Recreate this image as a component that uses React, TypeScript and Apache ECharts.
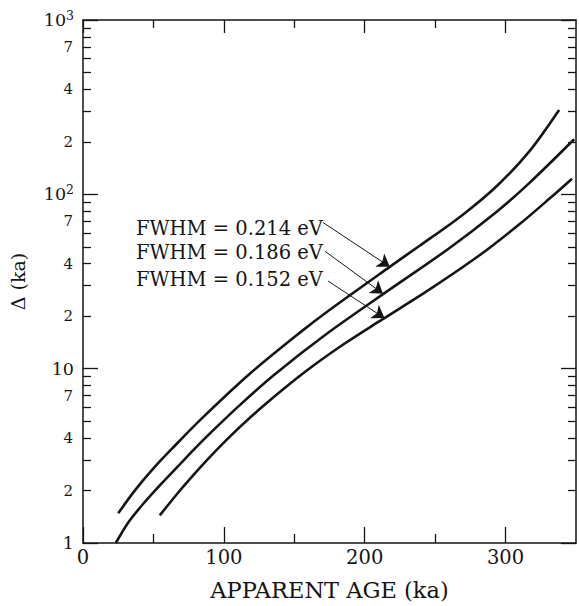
import React, { useEffect, useRef } from 'react';
import * as echarts from 'echarts';

const FONT = 'DejaVu Serif';
const INK = '#151515';

// ---- data ----
const seriesNames = ['FWHM = 0.214 eV', 'FWHM = 0.186 eV', 'FWHM = 0.152 eV'];

const age214 = [25, 37, 50, 64, 84, 119, 154, 175, 218, 239, 269, 294, 317, 338];
const delta214 = [1.48, 2.01, 2.68, 3.53, 5.15, 9.44, 16.1, 21.7, 38.5, 50.7, 75.7, 112, 177, 305];

const age186 = [23.3, 31.8, 43.1, 55.2, 67.2, 78.5, 90.5, 111.7, 135.8, 173.3, 214.3, 258.8, 293.5, 316.8, 348.7];
const delta186 = [1.0, 1.3, 1.69, 2.17, 2.74, 3.42, 4.28, 6.22, 9.23, 15.9, 27.2, 48.3, 79.3, 116, 207];

const age152 = [54.5, 67.2, 78.5, 90.5, 105, 127.3, 157.7, 185, 212.2, 246.1, 281.5, 309.8, 331, 347.2];
const delta152 = [1.44, 1.93, 2.46, 3.14, 4.13, 6.04, 9.59, 13.8, 19.1, 28.5, 44.7, 67.3, 94.2, 123];

// arrow annotations: [start age, start delta] -> [tip age, tip delta]
const arrowStarts = [[170.4, 68.9], [171.9, 47.1], [174, 31.8]];
const arrowTips = [[217.8, 38.4], [213, 26.9], [214, 19.5]];

// ---- ticks ----
const xMajorTicks = [0, 100, 200, 300];
const xMinorTicks = [50, 150, 250];
const yDecades = [1, 10, 100, 1000];
const yMinorTicks = [2, 3, 4, 5, 6, 7, 8, 9, 20, 30, 40, 50, 60, 70, 80, 90, 200, 300, 400, 500, 600, 700, 800, 900];
const yMinorLabels = [2, 4, 7, 20, 40, 70, 200, 400, 700];

// ---- layout ----
const labelX = 136;
const labelYs = [228, 252, 279];

const lg = (v: number) => Math.log10(v);

export default function App() {
  const ref = useRef<HTMLDivElement>(null);

  useEffect(() => {
    if (!ref.current) return;
    const chart = echarts.init(ref.current, undefined, { renderer: 'svg' });

    const lineStyle = { color: INK, width: 1.5 };
    const tickStyle = { color: INK, width: 1.3 };

    const xBase = {
      type: 'value' as const,
      min: 0,
      max: 350,
      splitLine: { show: false },
    };
    const yValBase = {
      type: 'value' as const,
      min: 0,
      max: 3,
      splitLine: { show: false },
      axisLine: { show: false, onZero: false },
    };

    const toPairs = (xs: number[], ys: number[]) => xs.map((x, i) => [x, ys[i]]);
    const datasets = [
      toPairs(age214, delta214),
      toPairs(age186, delta186),
      toPairs(age152, delta152),
    ];

    const option: any = {
      animation: false,
      backgroundColor: '#ffffff',
      textStyle: { fontFamily: FONT },
      grid: { left: 82, right: 3, top: 20, bottom: 59, containLabel: false },
      xAxis: [
        {
          ...xBase,
          position: 'bottom',
          axisLine: { show: true, onZero: false, lineStyle },
          axisTick: { show: true, inside: true, length: 16, customValues: xMajorTicks, lineStyle: tickStyle },
          axisLabel: { show: true, customValues: xMajorTicks, color: INK, fontFamily: FONT, fontSize: 19.5, margin: 4 },
          name: 'APPARENT AGE (ka)',
          nameLocation: 'middle',
          nameGap: 35,
          nameTextStyle: { color: INK, fontFamily: FONT, fontSize: 22.5 },
        },
        {
          ...xBase,
          position: 'bottom',
          axisLine: { show: false, onZero: false },
          axisTick: { show: true, inside: true, length: 9, customValues: xMinorTicks, lineStyle: tickStyle },
          axisLabel: { show: false },
        },
        {
          ...xBase,
          position: 'top',
          axisLine: { show: true, onZero: false, lineStyle },
          axisTick: { show: true, inside: true, length: 13, customValues: xMajorTicks, lineStyle: tickStyle },
          axisLabel: { show: false },
        },
        {
          ...xBase,
          position: 'top',
          axisLine: { show: false, onZero: false },
          axisTick: { show: true, inside: true, length: 8, customValues: xMinorTicks, lineStyle: tickStyle },
          axisLabel: { show: false },
        },
      ],
      yAxis: [
        {
          type: 'log',
          logBase: 10,
          min: 1,
          max: 1000,
          position: 'left',
          axisLine: { show: true, onZero: false, lineStyle },
          axisTick: { show: false },
          axisLabel: { show: false },
          splitLine: { show: false },
          minorTick: { show: false },
          name: 'Δ (ka)',
          nameLocation: 'middle',
          nameGap: 56,
          nameTextStyle: { color: INK, fontFamily: FONT, fontSize: 19 },
        },
        {
          ...yValBase,
          position: 'left',
          axisTick: { show: true, inside: true, length: 15, customValues: yDecades.map(lg), lineStyle: tickStyle },
          axisLabel: {
            show: true,
            customValues: yDecades.map(lg),
            color: INK,
            fontFamily: FONT,
            fontSize: 17.5,
            margin: 9,
            formatter: (v: number) => {
              const e = Math.round(v);
              if (e === 0) return '1';
              if (e === 1) return '10';
              return `{b|10}{s|${e}}`;
            },
            rich: {
              b: { fontFamily: FONT, fontSize: 17.5, color: INK },
              s: { fontFamily: FONT, fontSize: 12.5, color: INK, padding: [0, 0, 9, 0] },
            },
          },
        },
        {
          ...yValBase,
          position: 'left',
          axisTick: { show: true, inside: true, length: 8, customValues: yMinorTicks.map(lg), lineStyle: tickStyle },
          axisLabel: {
            show: true,
            customValues: yMinorLabels.map(lg),
            color: INK,
            fontFamily: FONT,
            fontSize: 15,
            margin: 10,
            formatter: (v: number) => {
              const n = Math.pow(10, v);
              const d = Math.pow(10, Math.floor(v + 1e-9));
              return String(Math.round(n / d));
            },
          },
        },
        {
          type: 'log',
          logBase: 10,
          min: 1,
          max: 1000,
          position: 'right',
          axisLine: { show: true, onZero: false, lineStyle },
          axisTick: { show: false },
          axisLabel: { show: false },
          splitLine: { show: false },
        },
        {
          ...yValBase,
          position: 'right',
          axisTick: { show: true, inside: true, length: 15, customValues: yDecades.map(lg), lineStyle: tickStyle },
          axisLabel: { show: false },
        },
        {
          ...yValBase,
          position: 'right',
          axisTick: { show: true, inside: true, length: 8, customValues: yMinorTicks.map(lg), lineStyle: tickStyle },
          axisLabel: { show: false },
        },
      ],
      series: datasets.map((data, i) => ({
        name: seriesNames[i],
        type: 'line',
        xAxisIndex: 0,
        yAxisIndex: 0,
        data,
        smooth: 0.3,
        symbol: 'none',
        lineStyle: { color: INK, width: 2.6 },
        silent: true,
        markLine: {
          silent: true,
          symbol: ['none', 'arrow'],
          symbolSize: 12,
          lineStyle: { color: INK, width: 1, type: 'solid' },
          itemStyle: { color: INK },
          label: { show: false },
          emphasis: { disabled: true },
          data: [[{ coord: arrowStarts[i] }, { coord: arrowTips[i] }]],
        },
      })),
      graphic: seriesNames.map((t, i) => ({
        type: 'text',
        x: labelX,
        y: labelYs[i],
        silent: true,
        style: {
          text: t,
          font: `19.5px ${FONT}`,
          fill: INK,
          align: 'left',
          verticalAlign: 'middle',
        },
      })),
    };

    chart.setOption(option);
    return () => chart.dispose();
  }, []);

  return (
    <div
      ref={ref}
      style={{ position: 'absolute', left: 0, top: 0, width: 579, height: 606, background: '#fff' }}
    />
  );
}
